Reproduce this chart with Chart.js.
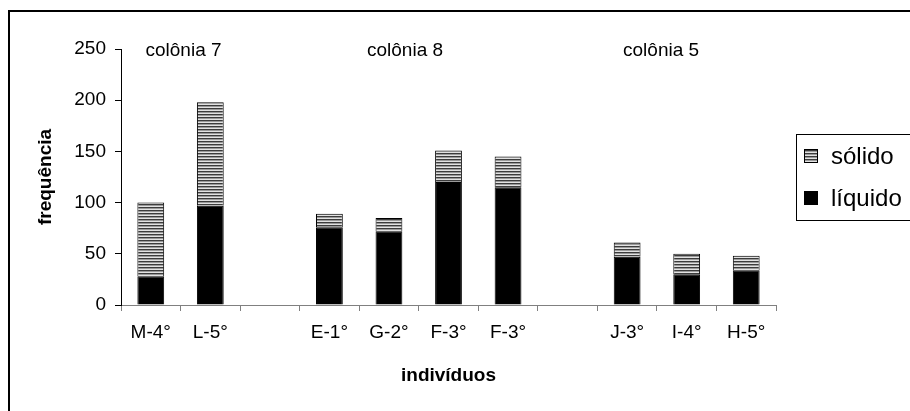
<!DOCTYPE html>
<html>
<head>
<meta charset="utf-8">
<script src="https://cdn.jsdelivr.net/npm/chart.js@4/dist/chart.umd.min.js"></script>
<style>
  html, body { margin: 0; padding: 0; background: #fff; }
  #wrap { width: 910px; height: 411px; position: relative; }
</style>
</head>
<body>
<div id="wrap"><canvas id="c" width="910" height="411"></canvas></div>
<script>
// individuals on the x axis (blank entries separate the colonies)
const individuos = ['M-4°', 'L-5°', '', 'E-1°', 'G-2°', 'F-3°', 'F-3°', '', 'J-3°', 'I-4°', 'H-5°'];
// frequency of liquid food per individual
const liquido = [28, 97, null, 76, 72, 120, 115, null, 47, 30, 34];
// frequency of solid food per individual (stacked on top)
const solido = [72, 101, null, 13, 13, 31, 30, null, 14, 20, 14];
// colony group captions
const colonias = ['colônia 7', 'colônia 8', 'colônia 5'];
// y axis tick values
const yTicks = [0, 50, 100, 150, 200, 250];

const FONT = '"Liberation Sans", Arial, sans-serif';

// horizontal-stripe fill for the "sólido" series
function stripePattern() {
  const c = document.createElement('canvas');
  c.width = 4; c.height = 3;
  const g = c.getContext('2d');
  const rows = ['#3c3c3c', '#9a9a9a', '#e2e2e2'];
  rows.forEach((col, i) => { g.fillStyle = col; g.fillRect(0, i, 4, 1); });
  return g.createPattern(c, 'repeat');
}
const stripes = stripePattern();

// outer frame, colony captions and the legend box
const decorations = {
  id: 'decorations',
  beforeDraw(chart) {
    const ctx = chart.ctx;
    ctx.save();
    ctx.fillStyle = '#fff';
    ctx.fillRect(0, 0, chart.width, chart.height);
    ctx.restore();
  },
  afterDraw(chart) {
    const ctx = chart.ctx;
    const xs = chart.scales.x;
    ctx.save();
    // frame
    ctx.strokeStyle = '#000';
    ctx.lineWidth = 2;
    ctx.beginPath();
    ctx.moveTo(9, chart.height + 2);
    ctx.lineTo(9, 11);
    ctx.lineTo(chart.width + 2, 11);
    ctx.stroke();

    // colony captions
    const anchors = [0.55, 4.27, 8.57];
    ctx.fillStyle = '#000';
    ctx.font = '19px ' + FONT;
    ctx.textAlign = 'center';
    ctx.textBaseline = 'middle';
    colonias.forEach((t, i) => {
      ctx.fillText(t, xs.getPixelForValue(anchors[i]), 51);
    });

    // legend
    ctx.lineWidth = 1;
    ctx.strokeStyle = '#000';
    ctx.strokeRect(796.5, 134.5, 140, 86);
    const items = [
      { label: chart.data.datasets[1].label, fill: stripes, y: 156 },
      { label: chart.data.datasets[0].label, fill: '#000', y: 198 }
    ];
    ctx.font = '24px ' + FONT;
    ctx.textAlign = 'left';
    items.forEach(it => {
      ctx.fillStyle = it.fill;
      ctx.fillRect(804, it.y - 7, 14, 14);
      ctx.strokeRect(804.5, it.y - 6.5, 13, 13);
      ctx.fillStyle = '#000';
      ctx.fillText(it.label, 831, it.y + 1);
    });
    ctx.restore();
  }
};

new Chart(document.getElementById('c'), {
  type: 'bar',
  data: {
    labels: individuos,
    datasets: [
      {
        label: 'líquido',
        data: liquido,
        backgroundColor: '#000',
        borderColor: '#000',
        borderWidth: 1,
        barPercentage: 0.45,
        categoryPercentage: 1
      },
      {
        label: 'sólido',
        data: solido,
        backgroundColor: stripes,
        borderColor: '#000',
        borderWidth: 1,
        barPercentage: 0.45,
        categoryPercentage: 1
      }
    ]
  },
  options: {
    responsive: false,
    animation: false,
    devicePixelRatio: 1,
    layout: { padding: { left: 0, top: 49, right: 134, bottom: 0 } },
    plugins: {
      legend: { display: false },
      tooltip: { enabled: false }
    },
    scales: {
      x: {
        stacked: true,
        grid: { display: true, drawOnChartArea: false, drawTicks: true, tickLength: 6, color: '#808080', offset: true },
        border: { display: true, color: '#808080', width: 1 },
        ticks: {
          autoSkip: false, maxRotation: 0, minRotation: 0,
          color: '#000', padding: 10,
          font: { family: FONT, size: 19 }
        },
        title: {
          display: true, text: 'indivíduos', color: '#000',
          font: { family: FONT, size: 19, weight: 'bold' },
          padding: { top: 0, bottom: 24 }
        },
        afterFit(s) { s.height = 106; }
      },
      y: {
        stacked: true,
        min: 0, max: 250,
        afterBuildTicks(s) { s.ticks = yTicks.map(v => ({ value: v })); },
        grid: { display: true, drawOnChartArea: false, drawTicks: true, tickLength: 6, color: '#000' },
        border: { display: true, color: '#000', width: 1 },
        ticks: {
          color: '#000', padding: 9,
          font: { family: FONT, size: 19 }
        },
        title: {
          display: true, text: 'frequência', color: '#000',
          font: { family: FONT, size: 19, weight: 'bold' },
          padding: { top: 34, bottom: 0 }
        },
        afterFit(s) { s.width = 121; }
      }
    }
  },
  plugins: [decorations]
});
</script>
</body>
</html>
